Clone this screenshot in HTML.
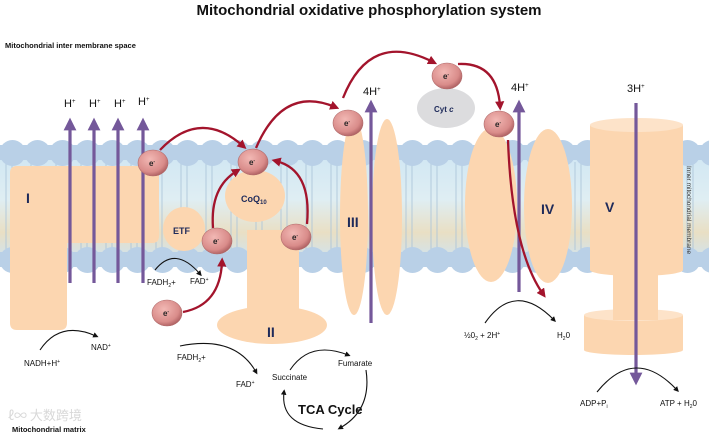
<!DOCTYPE html>
<html><head><meta charset="utf-8"><style>
html,body{margin:0;padding:0;background:#fff;}
svg{display:block;font-family:"Liberation Sans",sans-serif;}
</style></head><body>
<svg width="709" height="434" viewBox="0 0 709 434" xmlns="http://www.w3.org/2000/svg">
<defs>
<linearGradient id="mem" x1="0" y1="0" x2="0" y2="1">
<stop offset="0" stop-color="#cfe6f3"/><stop offset="0.45" stop-color="#dfeef3"/>
<stop offset="0.75" stop-color="#e9dfc4"/><stop offset="1" stop-color="#cfe3f0"/></linearGradient>
<radialGradient id="eg" cx="0.4" cy="0.35" r="0.7">
<stop offset="0" stop-color="#f2b8b4"/><stop offset="0.7" stop-color="#d98c8a"/><stop offset="1" stop-color="#a85a5c"/></radialGradient>
<marker id="pa" viewBox="0 0 10 10" refX="5" refY="5" markerWidth="4" markerHeight="4" orient="auto"><path d="M0,0L10,5L0,10z" fill="#74589a"/></marker>
<marker id="ra" viewBox="0 0 10 10" refX="5" refY="5" markerWidth="4" markerHeight="4" orient="auto"><path d="M0,0L10,5L0,10z" fill="#a3142c"/></marker>
<marker id="ka" viewBox="0 0 10 10" refX="5" refY="5" markerWidth="5" markerHeight="5" orient="auto"><path d="M0,0L10,5L0,10z" fill="#111"/></marker>
<pattern id="heads" x="0" y="0" width="25" height="26" patternUnits="userSpaceOnUse"><circle cx="12.5" cy="13" r="13" fill="#b9d0e7"/></pattern>
<pattern id="heads2" x="0" y="247" width="25" height="26" patternUnits="userSpaceOnUse"><circle cx="12.5" cy="13" r="13" fill="#b9d0e7"/></pattern>
<pattern id="heads1" x="0" y="140" width="25" height="26" patternUnits="userSpaceOnUse"><circle cx="12.5" cy="13" r="13" fill="#b9d0e7"/></pattern>
</defs>
<!-- membrane -->
<rect x="0" y="150" width="709" height="110" fill="url(#mem)"/>
<g stroke="#a9c2d8" stroke-width="0.8">
<path d="M6,162V250M12,162V250M31,162V250M37,162V250M56,162V250M62,162V250M81,162V250M87,162V250M106,162V250M112,162V250M131,162V250M137,162V250M156,162V250M162,162V250M181,162V250M187,162V250M206,162V250M212,162V250M231,162V250M237,162V250M256,162V250M262,162V250M281,162V250M287,162V250M306,162V250M312,162V250M331,162V250M337,162V250M406,162V250M412,162V250M431,162V250M437,162V250M456,162V250M462,162V250M575,162V250M581,162V250M687,162V250M693,162V250"/>
</g>
<rect x="0" y="145" width="709" height="15" fill="#b9d0e7"/>
<rect x="0" y="252" width="709" height="15" fill="#b9d0e7"/>
<rect x="0" y="140" width="709" height="26" fill="url(#heads1)"/>
<rect x="0" y="247" width="709" height="26" fill="url(#heads2)"/>
<!-- Complex I -->
<path d="M17,166H152Q159,166 159,173V236Q159,243 152,243H67V323Q67,330 60,330H17Q10,330 10,323V173Q10,166 17,166Z" fill="#fcd6b0"/>
<!-- II -->
<rect x="247" y="230" width="52" height="85" fill="#fcd6b0"/>
<ellipse cx="272" cy="325" rx="55" ry="19" fill="#fcd6b0"/>
<!-- ETF, CoQ -->
<ellipse cx="184" cy="229" rx="21" ry="22" fill="#fcd6b0"/>
<ellipse cx="255" cy="196" rx="30" ry="26" fill="#fcd6b0"/>
<!-- III -->
<ellipse cx="354" cy="216" rx="14" ry="99" fill="#fcd6b0"/>
<ellipse cx="387" cy="217" rx="15" ry="98" fill="#fcd6b0"/>
<!-- IV -->
<ellipse cx="491" cy="205" rx="26" ry="77" fill="#fcd6b0"/>
<ellipse cx="548" cy="206" rx="24" ry="77" fill="#fcd6b0"/>
<!-- V -->
<rect x="584" y="315" width="99" height="35" fill="#fcd6b0"/>
<ellipse cx="633.5" cy="350" rx="49.5" ry="5" fill="#fcd6b0"/>
<ellipse cx="633.5" cy="315" rx="49.5" ry="6" fill="#fde3c9"/>
<rect x="613" y="270" width="45" height="50" fill="#fcd6b0"/>
<rect x="590" y="125" width="93" height="145" fill="#fcd6b0"/>
<ellipse cx="636.5" cy="270" rx="46.5" ry="6" fill="#fcd6b0"/>
<ellipse cx="636.5" cy="125" rx="46.5" ry="7" fill="#fde3c9"/>
<!-- Cyt c -->
<ellipse cx="446" cy="108" rx="29" ry="20" fill="#dcdcde"/>
<!-- purple arrows -->
<g stroke="#74589a" stroke-width="3.2" fill="none">
<path d="M70,283V124" marker-end="url(#pa)"/><path d="M94,283V124" marker-end="url(#pa)"/>
<path d="M118,283V124" marker-end="url(#pa)"/><path d="M143,283V124" marker-end="url(#pa)"/>
<path d="M371,323V106" marker-end="url(#pa)"/><path d="M519,292V106" marker-end="url(#pa)"/>
<path d="M636,103V379" marker-end="url(#pa)"/>
</g>
<!-- red arrows -->
<g stroke="#a3142c" stroke-width="2.3" fill="none">
<path d="M160,150Q200,108 243,146" marker-end="url(#ra)"/>
<path d="M256,148Q283,85 335,107" marker-end="url(#ra)"/>
<path d="M343,98Q370,30 433,62" marker-end="url(#ra)"/>
<path d="M458,64Q497,62 500,106" marker-end="url(#ra)"/>
<path d="M213,228Q210,187 237,171" marker-end="url(#ra)"/>
<path d="M307,224Q312,170 276,161" marker-end="url(#ra)"/>
<path d="M183,312Q220,305 222,262" marker-end="url(#ra)"/>
<path d="M508,140Q512,250 543,294" marker-end="url(#ra)"/>
</g>
<!-- electrons -->
<g fill="url(#eg)" stroke="#b06a6a" stroke-width="0.6">
<ellipse cx="153" cy="163" rx="15" ry="13"/><ellipse cx="253" cy="162" rx="15" ry="13"/>
<ellipse cx="348" cy="123" rx="15" ry="13"/><ellipse cx="447" cy="76" rx="15" ry="13"/>
<ellipse cx="499" cy="124" rx="15" ry="13"/><ellipse cx="217" cy="241" rx="15" ry="13"/>
<ellipse cx="296" cy="237" rx="15" ry="13"/><ellipse cx="167" cy="313" rx="15" ry="13"/>
</g>
<g font-size="8" font-weight="bold" fill="#222" text-anchor="middle">
<text x="152" y="166">e<tspan font-size="5" dy="-3">-</tspan></text>
<text x="252" y="165">e<tspan font-size="5" dy="-3">-</tspan></text>
<text x="347" y="126">e<tspan font-size="5" dy="-3">-</tspan></text>
<text x="446" y="79">e<tspan font-size="5" dy="-3">-</tspan></text>
<text x="498" y="127">e<tspan font-size="5" dy="-3">-</tspan></text>
<text x="216" y="244">e<tspan font-size="5" dy="-3">-</tspan></text>
<text x="295" y="240">e<tspan font-size="5" dy="-3">-</tspan></text>
<text x="166" y="316">e<tspan font-size="5" dy="-3">-</tspan></text>
</g>
<!-- black arcs -->
<g stroke="#111" stroke-width="1.1" fill="none">
<path d="M40,350Q60,320 96,336" marker-end="url(#ka)"/>
<path d="M155,270Q175,245 200,274" marker-end="url(#ka)"/>
<path d="M180,346Q235,335 256,372" marker-end="url(#ka)"/>
<path d="M290,370Q310,340 348,355" marker-end="url(#ka)"/>
<path d="M366,370Q372,410 340,428" marker-end="url(#ka)"/>
<path d="M323,429Q280,425 284,392" marker-end="url(#ka)"/>
<path d="M485,323Q515,280 554,320" marker-end="url(#ka)"/>
<path d="M597,392Q635,345 677,390" marker-end="url(#ka)"/>
</g>
<!-- labels -->
<g fill="#1e2a5a" font-weight="bold">
<text x="26" y="203" font-size="14">I</text>
<text x="267" y="337" font-size="14">II</text>
<text x="347" y="227" font-size="14">III</text>
<text x="541" y="214" font-size="14">IV</text>
<text x="605" y="212" font-size="14">V</text>
<text x="173" y="234" font-size="9">ETF</text>
<text x="241" y="202" font-size="9">CoQ<tspan font-size="6" dy="2">10</tspan></text>
<text x="434" y="112" font-size="8">Cyt <tspan font-style="italic">c</tspan></text>
</g>
<g fill="#111" font-size="11">
<text x="64" y="107">H<tspan font-size="6" dy="-4">+</tspan></text>
<text x="89" y="107">H<tspan font-size="6" dy="-4">+</tspan></text>
<text x="114" y="107">H<tspan font-size="6" dy="-4">+</tspan></text>
<text x="138" y="105">H<tspan font-size="6" dy="-4">+</tspan></text>
<text x="363" y="95">4H<tspan font-size="6" dy="-4">+</tspan></text>
<text x="511" y="91">4H<tspan font-size="6" dy="-4">+</tspan></text>
<text x="627" y="92">3H<tspan font-size="6" dy="-4">+</tspan></text>
</g>
<g fill="#111" font-size="8">
<text x="24" y="366">NADH+H<tspan font-size="5" dy="-3">+</tspan></text>
<text x="91" y="350">NAD<tspan font-size="5" dy="-3">+</tspan></text>
<text x="147" y="285">FADH<tspan font-size="5" dy="2">2</tspan><tspan dy="-2">+</tspan></text>
<text x="190" y="284">FAD<tspan font-size="5" dy="-3">+</tspan></text>
<text x="177" y="360">FADH<tspan font-size="5" dy="2">2</tspan><tspan dy="-2">+</tspan></text>
<text x="236" y="387">FAD<tspan font-size="5" dy="-3">+</tspan></text>
<text x="272" y="380">Succinate</text>
<text x="338" y="366">Fumarate</text>
<text x="464" y="338">½0<tspan font-size="5" dy="2">2</tspan><tspan dy="-2"> + 2H</tspan><tspan font-size="5" dy="-3">+</tspan></text>
<text x="557" y="338">H<tspan font-size="5" dy="2">2</tspan><tspan dy="-2">0</tspan></text>
<text x="580" y="406">ADP+P<tspan font-size="5" dy="2">i</tspan></text>
<text x="660" y="406">ATP + H<tspan font-size="5" dy="2">2</tspan><tspan dy="-2">0</tspan></text>
</g>
<text x="298" y="414" font-size="13" font-weight="bold" fill="#111">TCA Cycle</text>
<text x="369" y="15" font-size="15" font-weight="bold" fill="#111" text-anchor="middle">Mitochondrial oxidative phosphorylation system</text>
<text x="5" y="48" font-size="7.5" font-weight="bold" fill="#111">Mitochondrial inter membrane space</text>
<text x="12" y="432" font-size="7.5" font-weight="bold" fill="#111">Mitochondrial matrix</text>
<text x="8" y="420" font-size="13" fill="#d8d8d8" font-family="Noto Sans CJK SC, sans-serif">ℓ∞ 大数跨境</text>
<text transform="translate(687,166) rotate(90)" font-size="6.5" fill="#333">Inner mitochondrial membrane</text>
</svg>
</body></html>
